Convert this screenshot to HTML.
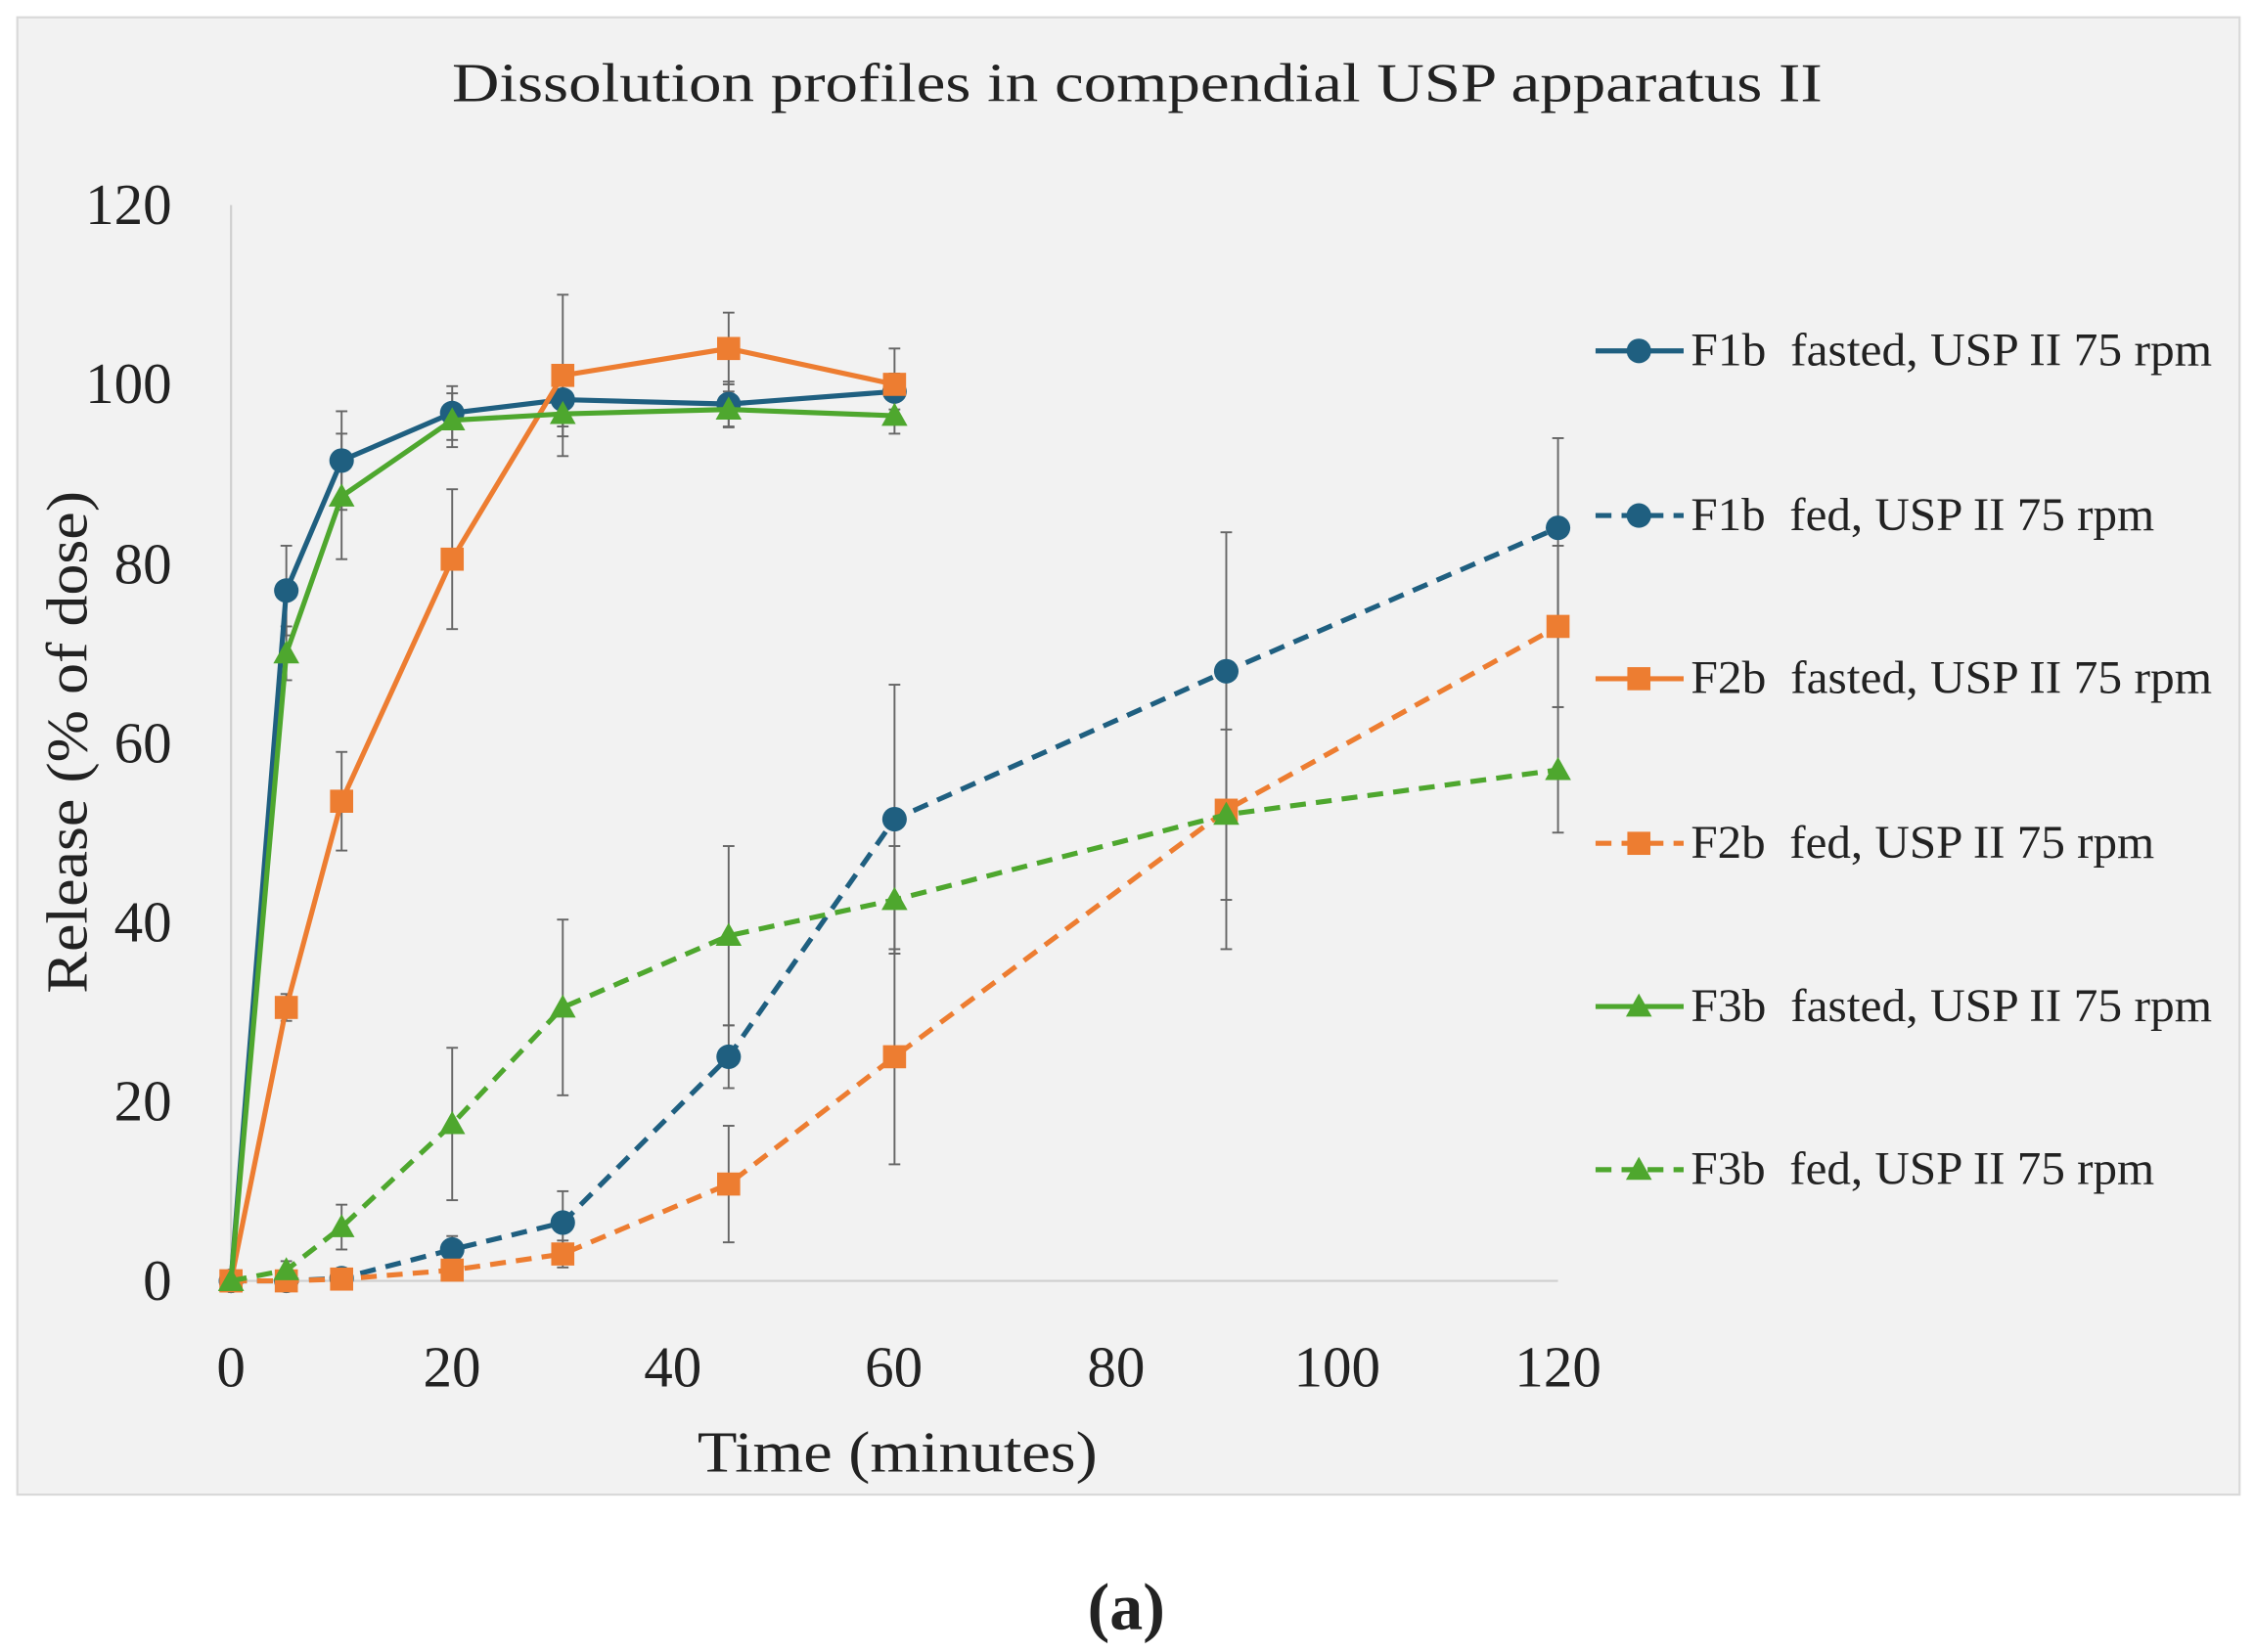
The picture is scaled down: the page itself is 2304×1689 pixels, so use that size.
<!DOCTYPE html>
<html><head><meta charset="utf-8"><style>
html,body{margin:0;padding:0;background:#fff;}
svg{display:block;}
text{font-family:"Liberation Serif",serif;fill:#222;white-space:pre;}
</style></head><body>
<svg id="s" width="2304" height="1689" viewBox="0 0 1561 1144" preserveAspectRatio="none" xmlns="http://www.w3.org/2000/svg">
<rect x="12" y="12" width="1539" height="1023" fill="#f2f2f2" stroke="#d9d9d9" stroke-width="1.5"/>
<text x="313" y="70" font-size="38" textLength="949" lengthAdjust="spacingAndGlyphs">Dissolution profiles in compendial USP apparatus II</text>
<line x1="160" y1="142" x2="160" y2="887" stroke="#d0d0d0" stroke-width="1.5"/>
<line x1="160" y1="887" x2="1079" y2="887" stroke="#d0d0d0" stroke-width="1.5"/>
<g font-size="40" text-anchor="end">
<text x="119" y="900">0</text><text x="119" y="776">20</text><text x="119" y="652">40</text>
<text x="119" y="528">60</text><text x="119" y="404">80</text><text x="119" y="279">100</text><text x="119" y="155">120</text>
</g>
<g font-size="40" text-anchor="middle">
<text x="160" y="960">0</text><text x="313" y="960">20</text><text x="466" y="960">40</text><text x="619" y="960">60</text>
<text x="773" y="960">80</text><text x="926" y="960">100</text><text x="1079" y="960">120</text>
</g>
<text x="483" y="1019" font-size="40" textLength="277" lengthAdjust="spacingAndGlyphs">Time (minutes)</text>
<text transform="translate(60,688) rotate(-90)" font-size="40" textLength="348" lengthAdjust="spacingAndGlyphs">Release (% of dose)</text>
<text x="780" y="1128" font-size="46" font-weight="bold" text-anchor="middle">(a)</text>
<g id="plot"></g>
<g id="leg"></g>
</svg>
<script>
var NS="http://www.w3.org/2000/svg";
function X(t){return 160+t*919/120;}function Y(v){return 887-v*745/120;}
var B="#1f5f80",O="#ed7d31",G="#4ea72e";
var series=[
{c:B,d:false,m:"c",n:"F1b  fasted, USP II 75 rpm",w:361,p:[[0,0,0],[5,77,5],[10,91.5,5.5],[20,96.8,3],[30,98.3,3],[45,97.8,2.5],[60,99.2,2]]},
{c:B,d:true,m:"c",n:"F1b  fed, USP II 75 rpm",w:321,p:[[0,0,0],[5,0,0],[10,0.3,0.5],[20,3.5,1.5],[30,6.5,3.5],[45,25,3.5],[60,51.5,15],[90,68,15.5],[120,84,10]]},
{c:O,d:false,m:"s",n:"F2b  fasted, USP II 75 rpm",w:361,p:[[0,0,0],[5,30.5,1.5],[10,53.5,5.5],[20,80.5,7.8],[30,101,9],[45,104,4],[60,100,4]]},
{c:O,d:true,m:"s",n:"F2b  fed, USP II 75 rpm",w:321,p:[[0,0,0],[5,0,0],[10,0.2,0.3],[20,1.2,0.8],[30,3,1.5],[45,10.8,6.5],[60,25,12],[90,52.5,15.5],[120,73,9]]},
{c:G,d:false,m:"t",n:"F3b  fasted, USP II 75 rpm",w:361,p:[[0,0,0],[5,70,3],[10,87.5,7],[20,96,3],[30,96.7,2.5],[45,97.2,2],[60,96.5,2]]},
{c:G,d:true,m:"t",n:"F3b  fed, USP II 75 rpm",w:321,p:[[0,0,0],[5,1.2,1],[10,6,2.5],[20,17.5,8.5],[30,30.5,9.8],[45,38.5,10],[60,42.5,6],[90,52,9.5],[120,57,7]]}
];
function el(t,a,par){var e=document.createElementNS(NS,t);for(var k in a)e.setAttribute(k,a[k]);par.appendChild(e);return e;}
var P=document.getElementById("plot"),L=document.getElementById("leg");
function mk(m,x,y,c,par){
 if(m=="c")el("circle",{cx:x,cy:y,r:8.5,fill:c},par);
 else if(m=="s")el("rect",{x:x-8,y:y-8,width:16,height:16,fill:c},par);
 else el("polygon",{points:(x)+","+(y-9)+" "+(x+9)+","+(y+7)+" "+(x-9)+","+(y+7),fill:c},par);
}
series.forEach(function(s){
 s.p.forEach(function(q){if(q[2]>0){var x=X(q[0]);
  el("line",{x1:x,x2:x,y1:Y(q[1]+q[2]),y2:Y(q[1]-q[2]),stroke:"#666","stroke-width":1.3},P);
  el("line",{x1:x-4,x2:x+4,y1:Y(q[1]+q[2]),y2:Y(q[1]+q[2]),stroke:"#666","stroke-width":1.3},P);
  el("line",{x1:x-4,x2:x+4,y1:Y(q[1]-q[2]),y2:Y(q[1]-q[2]),stroke:"#666","stroke-width":1.3},P);}});
});
series.forEach(function(s,i){
 var pts=s.p.map(function(q){return X(q[0])+","+Y(q[1]);}).join(" ");
 var a={points:pts,fill:"none",stroke:s.c,"stroke-width":3.5};if(s.d)a["stroke-dasharray"]="11,7";
 el("polyline",a,P);
 s.p.forEach(function(q){mk(s.m,X(q[0]),Y(q[1]),s.c,P);});
 var ly=[243,357,470,584,697,810][i];
 var la={x1:1105,x2:1166,y1:ly,y2:ly,stroke:s.c,"stroke-width":3.5};if(s.d)la["stroke-dasharray"]="11,7";
 el("line",la,L);mk(s.m,1135,ly,s.c,L);
 var t=el("text",{x:1171,y:ly+10,"font-size":32,textLength:s.w,lengthAdjust:"spacingAndGlyphs"},L);t.textContent=s.n;
});
</script>
</body></html>
